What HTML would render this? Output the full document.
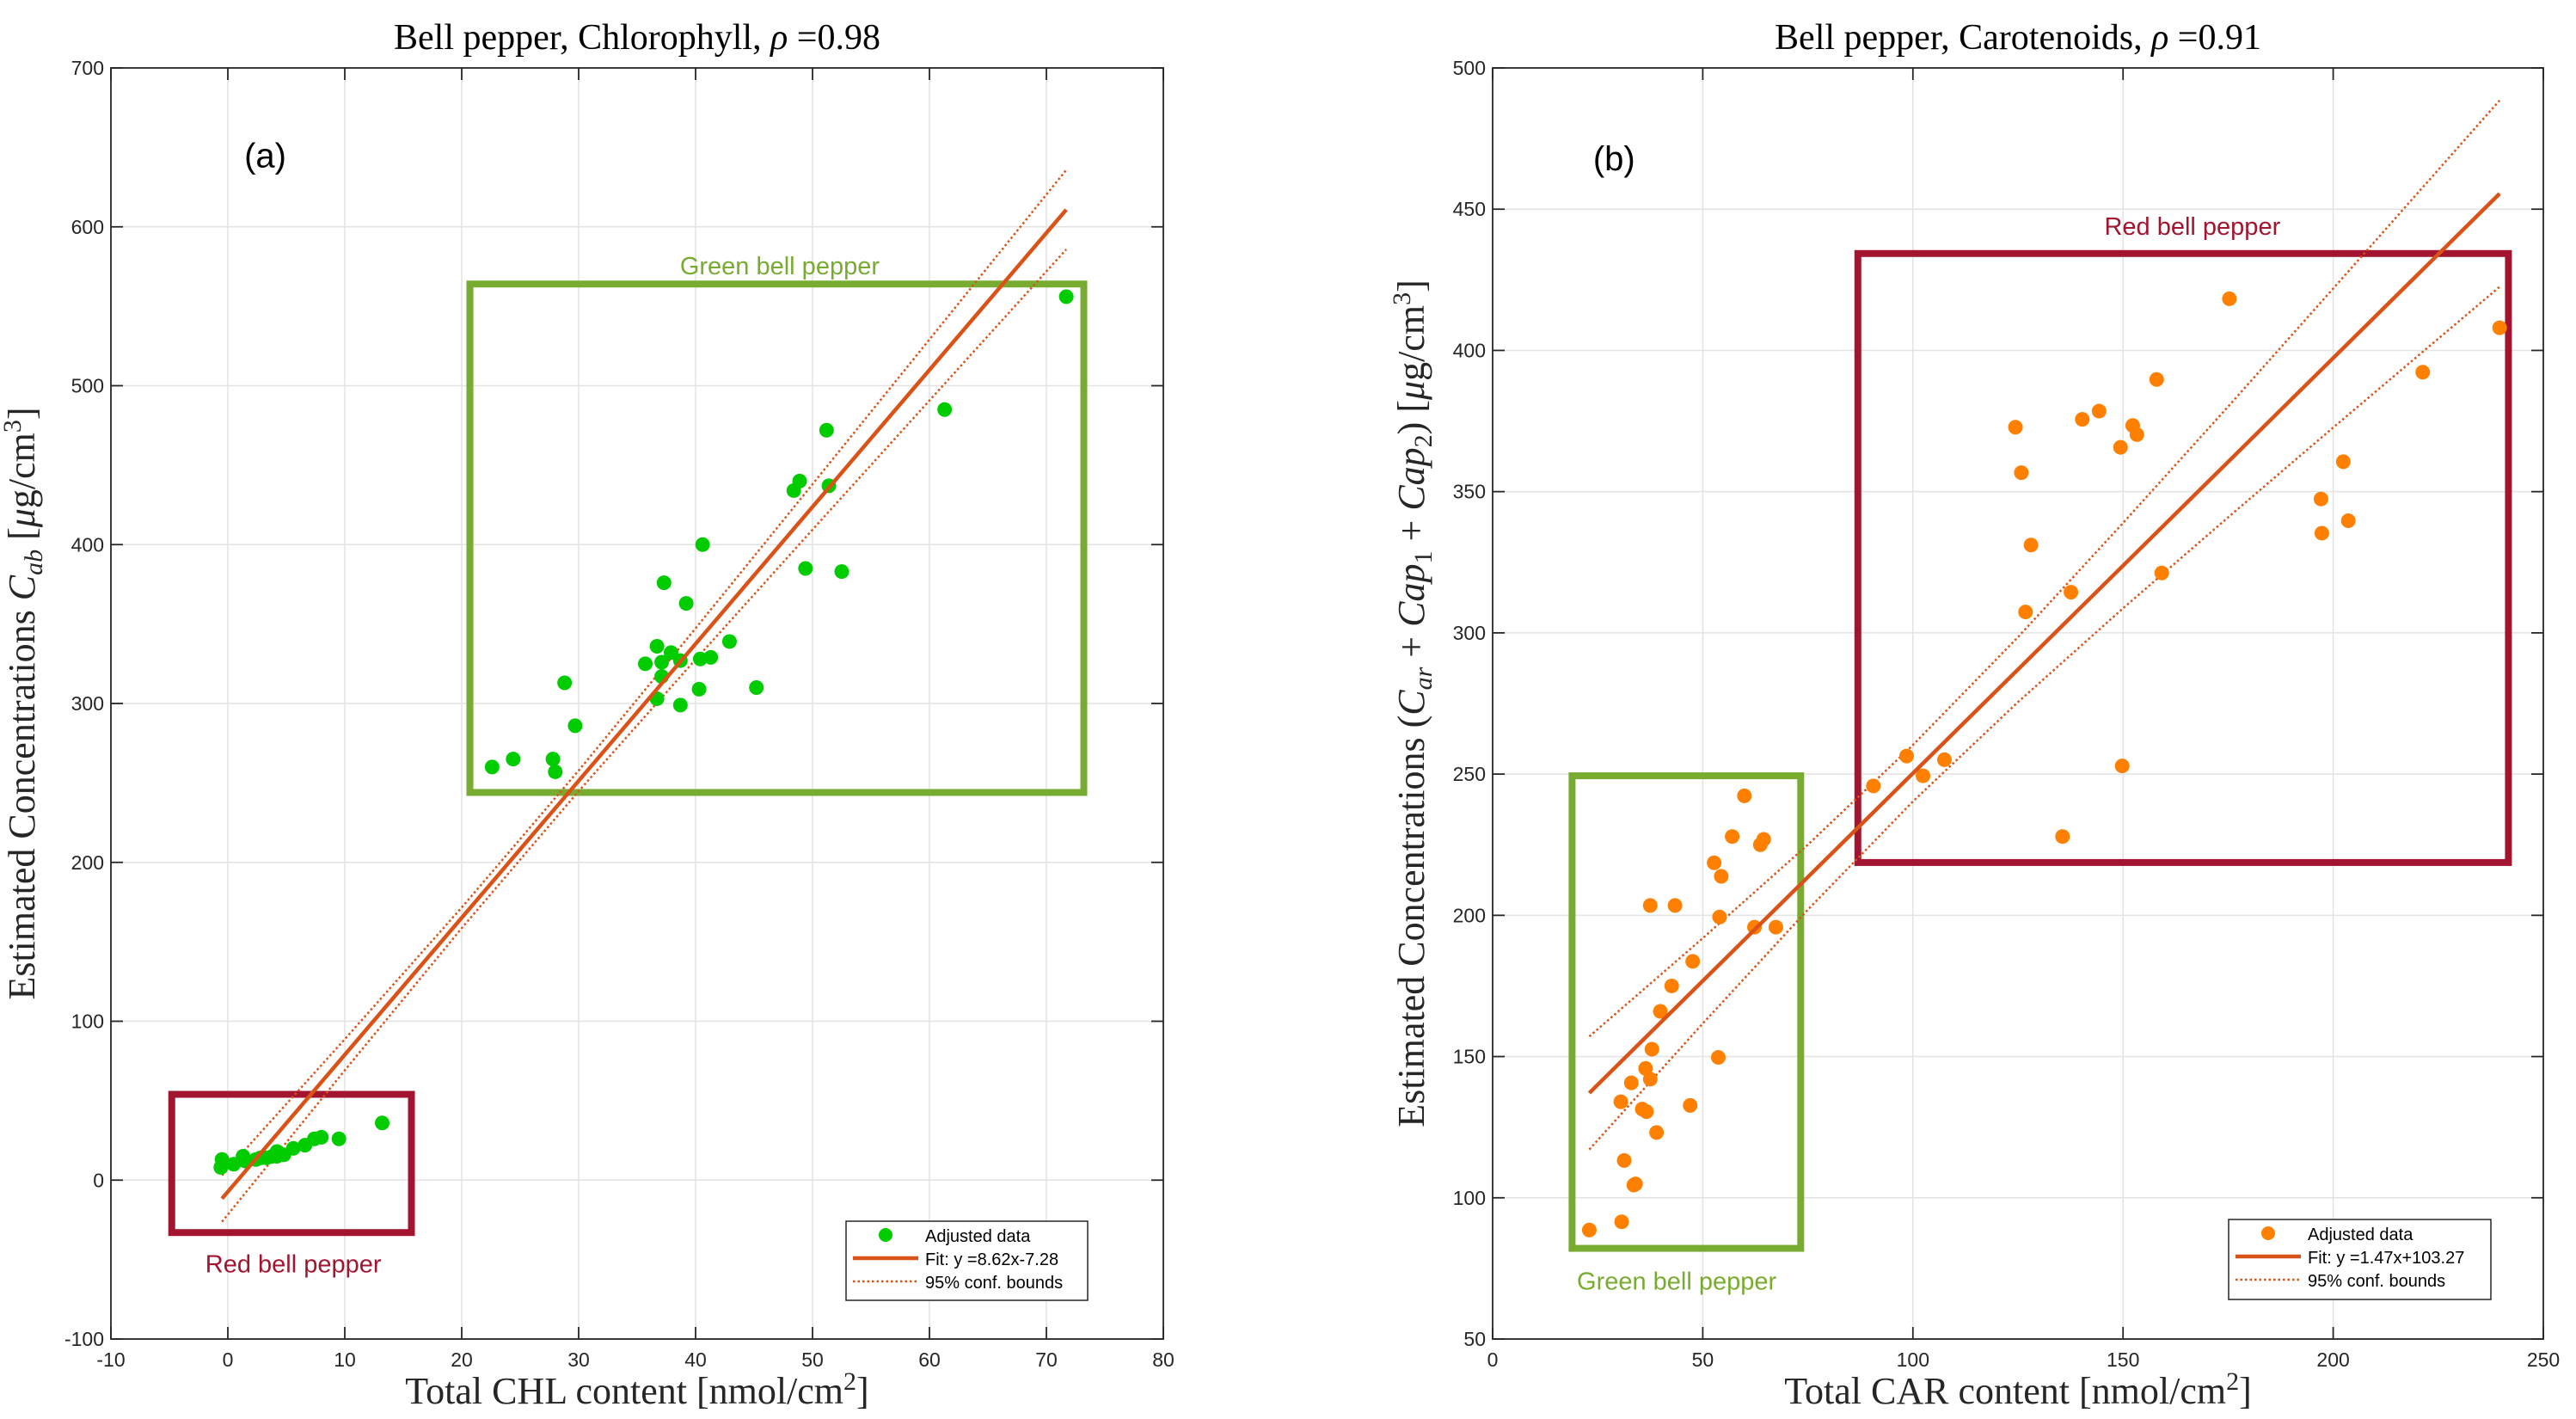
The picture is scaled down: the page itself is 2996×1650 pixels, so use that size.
<!DOCTYPE html>
<html><head><meta charset="utf-8"><style>
body{margin:0;background:#fff}
svg{display:block}
text{font-family:"Liberation Sans",sans-serif}
.serif{font-family:"Liberation Serif",serif}
</style></head><body>
<svg id="chart" width="2996" height="1650" viewBox="0 0 2996 1650" xmlns="http://www.w3.org/2000/svg"></svg>
<script>
// ---- Panel (a) data ----
const chlX = [71.7,61.3,51.2,51.4,48.9,48.4,40.6,49.4,52.5,37.3,39.2,42.9,41.3,40.4,36.7,37.9,35.7,37.1,38.7,37.1,36.7,40.3,38.7,45.2,28.8,29.7,22.6,24.4,27.8,28.0,-0.5,-0.6,0.5,1.3,1.5,2.4,2.8,3.3,3.8,4.2,4.2,4.8,5.6,6.6,7.4,8.0,9.5,13.2];
const chlY = [556,485,472,437,440,434,400,385,383,376,363,339,329,328,336,332,325,326,327,317,303,309,299,310,313,286,260,265,265,257,13,8,10,15,12,13,14,14,15,18,15,16,20,22,26,27,26,36];
const chlFitX = [-0.5,71.7];
const chlFitY = [-11.6,610.8];
const chlBoundX = [-0.5,10,20,30,40,50,60,71.7];
const chlUpper = [3.0,88.7,171.6,257.8,347.3,438.0,529.1,635.8];
const chlLower = [-26.2,69.1,158.6,244.8,327.7,409.4,490.7,585.8];
const chlXTicks = [-10,0,10,20,30,40,50,60,70,80];
const chlYTicks = [-100,0,100,200,300,400,500,600,700];
// ---- Panel (b) data ----
const carX = [175.3,239.6,221.3,158.0,144.3,140.3,124.4,152.3,153.3,149.4,202.4,125.8,197.1,203.6,197.3,128.1,159.2,137.6,126.8,149.8,107.5,98.5,102.4,90.6,135.6,59.9,57.0,64.5,63.7,52.7,54.4,37.5,43.4,54.0,62.3,67.4,47.6,42.6,39.9,37.9,36.4,37.5,33.0,30.5,53.7,47.0,35.6,36.6,39.0,31.3,34.0,33.6,30.7,23.0];
const carY = [418.3,408.0,392.3,389.7,378.5,375.6,372.8,373.4,370.2,365.7,360.6,356.7,347.4,339.7,335.3,331.1,321.2,314.4,307.4,252.9,255.1,256.4,249.4,245.8,227.9,242.3,227.9,226.9,225.0,218.6,213.8,203.5,203.5,199.4,195.8,195.8,183.7,175.0,166.0,152.6,145.8,142.0,140.7,134.0,149.7,132.7,131.4,130.5,123.1,113.2,104.9,104.5,91.5,88.6];
const carFitX = [23,239.6];
const carFitY = [137.1,455.5];
const carBoundX = [23,50,75,100,125,150,175,200,239.6];
const carUpper = [157.1,191.9,225.0,260.3,298.5,338.9,380.1,421.9,488.5];
const carLower = [117.1,161.7,202.0,240.3,275.5,308.7,340.9,372.7,422.5];
const carXTicks = [0,50,100,150,200,250];
const carYTicks = [50,100,150,200,250,300,350,400,450,500];

const NS="http://www.w3.org/2000/svg";
const svg=document.getElementById('chart');
function mk(tag,attrs,parent){const e=document.createElementNS(NS,tag);for(const k in attrs)e.setAttribute(k,attrs[k]);(parent||svg).appendChild(e);return e;}
const ORANGE='#d95319', GREEN='#77ac30', RED='#a2142f';

function panel(cfg){
  const g=mk('g',{});
  
  
  const {L,R,T,B,x0,x1,y0,y1}=cfg;
  const sx=v=>L+(v-x0)/(x1-x0)*(R-L);
  const sy=v=>B-(v-y0)/(y1-y0)*(B-T);
  cfg.xt.forEach(v=>{const l=mk('line',{x1:sx(v),x2:sx(v),y1:T,y2:B,stroke:'#e3e3e3','stroke-width':1.5},g);});
  cfg.yt.forEach(v=>{const l=mk('line',{x1:L,x2:R,y1:sy(v),y2:sy(v),stroke:'#e3e3e3','stroke-width':1.5},g);});
  cfg.boxes.forEach(b=>{const r=mk('rect',{x:sx(b.xa),y:sy(b.yb),width:sx(b.xb)-sx(b.xa),height:sy(b.ya)-sy(b.yb),fill:'none',stroke:b.c,'stroke-width':8},g);
    const t=mk('text',{x:sx(b.tx),y:sy(b.ty),'text-anchor':'middle','font-size':29,fill:b.c},g);t.textContent=b.label;});
  const bp=(ys)=>cfg.bx.map((v,i)=>sx(v)+','+sy(ys[i])).join(' ');
  const u=mk('polyline',{points:bp(cfg.up),fill:'none',stroke:ORANGE,'stroke-width':2.5,'stroke-dasharray':'2.5 3'},g);
  const lo=mk('polyline',{points:bp(cfg.lo),fill:'none',stroke:ORANGE,'stroke-width':2.5,'stroke-dasharray':'2.5 3'},g);
  cfg.px.forEach((v,i)=>{const c=mk('circle',{cx:sx(v),cy:sy(cfg.py[i]),r:8.5,fill:cfg.pc},g);});
  const f=mk('line',{x1:sx(cfg.fx[0]),y1:sy(cfg.fy[0]),x2:sx(cfg.fx[1]),y2:sy(cfg.fy[1]),stroke:ORANGE,'stroke-width':4.5},g);
  const ax=mk('rect',{x:L,y:T,width:R-L,height:B-T,fill:'none',stroke:'#262626','stroke-width':1.8},g);
  cfg.xt.forEach(v=>{mk('line',{x1:sx(v),x2:sx(v),y1:B,y2:B-14,stroke:'#262626','stroke-width':1.8},g);mk('line',{x1:sx(v),x2:sx(v),y1:T,y2:T+14,stroke:'#262626','stroke-width':1.8},g);
    const t=mk('text',{x:sx(v),y:B+32,'text-anchor':'middle','font-size':23,fill:'#262626'},g);t.textContent=v;});
  cfg.yt.forEach(v=>{mk('line',{x1:L,x2:L+14,y1:sy(v),y2:sy(v),stroke:'#262626','stroke-width':1.8},g);mk('line',{x1:R,x2:R-14,y1:sy(v),y2:sy(v),stroke:'#262626','stroke-width':1.8},g);
    const t=mk('text',{x:L-8,y:sy(v)+8,'text-anchor':'end','font-size':23,fill:'#262626'},g);t.textContent=v;});
  const pl=mk('text',{x:sx(cfg.letter[1]),y:sy(cfg.letter[2])+14,'text-anchor':'middle','font-size':40,fill:'#000'},g);pl.textContent=cfg.letter[0];
  const lg=mk('g',{},g);
  const [lx,ly,lw,lh]=cfg.leg;
  mk('rect',{x:lx,y:ly,width:lw,height:lh,fill:'#fff',stroke:'#262626','stroke-width':1.5},lg);
  mk('circle',{cx:lx+46,cy:ly+16,r:8,fill:cfg.pc},lg);
  mk('line',{x1:lx+8,x2:lx+84,y1:ly+43,y2:ly+43,stroke:ORANGE,'stroke-width':4.5},lg);
  mk('line',{x1:lx+8,x2:lx+84,y1:ly+70,y2:ly+70,stroke:ORANGE,'stroke-width':2.5,'stroke-dasharray':'2.5 3'},lg);
  [['Adjusted data',ly+24,'legend-entry-data'],[cfg.fitLabel,ly+51,'legend-entry-fit'],['95% conf. bounds',ly+78,'legend-entry-bounds']].forEach(e=>{const t=mk('text',{x:lx+92,y:e[1],'font-size':20,fill:'#000'},lg);t.textContent=e[0];});
  const ti=mk('text',{x:(L+R)/2,y:T-22,'text-anchor':'middle','font-size':42,fill:'#000',class:'serif'},g);ti.innerHTML=cfg.title;
  const xl=mk('text',{x:(L+R)/2,y:1632,'text-anchor':'middle','font-size':44,fill:'#262626',class:'serif'},g);xl.innerHTML=cfg.xlabel;
  const yl=mk('text',{x:0,y:0,'text-anchor':'middle','font-size':44,fill:'#262626',class:'serif',transform:`translate(${cfg.ylx},${(T+B)/2}) rotate(-90)`},g);yl.innerHTML=cfg.ylabel;
}

panel({name:'panel-a-chlorophyll',L:129,R:1353,T:79,B:1557,x0:-10,x1:80,y0:-100,y1:700,xt:chlXTicks,yt:chlYTicks,
  px:chlX,py:chlY,pc:'#00cc00',fx:chlFitX,fy:chlFitY,bx:chlBoundX,up:chlUpper,lo:chlLower,
  boxes:[{xa:20.7,xb:73.2,ya:244,yb:564,c:GREEN,n:'green-pepper-box',label:'Green bell pepper',tx:47.2,ty:570},
         {xa:-4.8,xb:15.7,ya:-33,yb:54,c:RED,n:'red-pepper-box',label:'Red bell pepper',tx:5.6,ty:-58}],
  letter:['(a)',3.2,645],leg:[984,1420,281,92],fitLabel:'Fit: y =8.62x-7.28',
  title:'Bell pepper, Chlorophyll, <tspan font-style="italic">ρ</tspan> =0.98',
  xlabel:'Total CHL content [nmol/cm<tspan baseline-shift="super" font-size="30">2</tspan>]',
  ylabel:'Estimated Concentrations <tspan font-style="italic">C</tspan><tspan font-style="italic" font-size="30" dy="9">ab</tspan><tspan dy="-9"> [</tspan><tspan font-style="italic">μ</tspan>g/cm<tspan baseline-shift="super" font-size="30">3</tspan>]',
  ylx:40});

panel({name:'panel-b-carotenoids',L:1736,R:2958,T:79,B:1557,x0:0,x1:250,y0:50,y1:500,xt:carXTicks,yt:carYTicks,
  px:carX,py:carY,pc:'#ff8000',fx:carFitX,fy:carFitY,bx:carBoundX,up:carUpper,lo:carLower,
  boxes:[{xa:86.9,xb:241.7,ya:218.7,yb:434.3,c:RED,n:'red-pepper-box',label:'Red bell pepper',tx:166.5,ty:441},
         {xa:18.9,xb:73.3,ya:82.1,yb:249.4,c:GREEN,n:'green-pepper-box',label:'Green bell pepper',tx:43.8,ty:67.5}],
  letter:['(b)',28.9,468],leg:[2592,1418,305,93],fitLabel:'Fit: y =1.47x+103.27',
  title:'Bell pepper, Carotenoids, <tspan font-style="italic">ρ</tspan> =0.91',
  xlabel:'Total CAR content [nmol/cm<tspan baseline-shift="super" font-size="30">2</tspan>]',
  ylabel:'Estimated Concentrations (<tspan font-style="italic">C</tspan><tspan font-style="italic" font-size="30" dy="9">ar</tspan><tspan dy="-9"> + </tspan><tspan font-style="italic">Cap</tspan><tspan font-size="30" dy="9">1</tspan><tspan dy="-9"> + </tspan><tspan font-style="italic">Cap</tspan><tspan font-size="30" dy="9">2</tspan><tspan dy="-9">) [</tspan><tspan font-style="italic">μ</tspan>g/cm<tspan baseline-shift="super" font-size="30">3</tspan>]',
  ylx:1656});
</script>
</body></html>
